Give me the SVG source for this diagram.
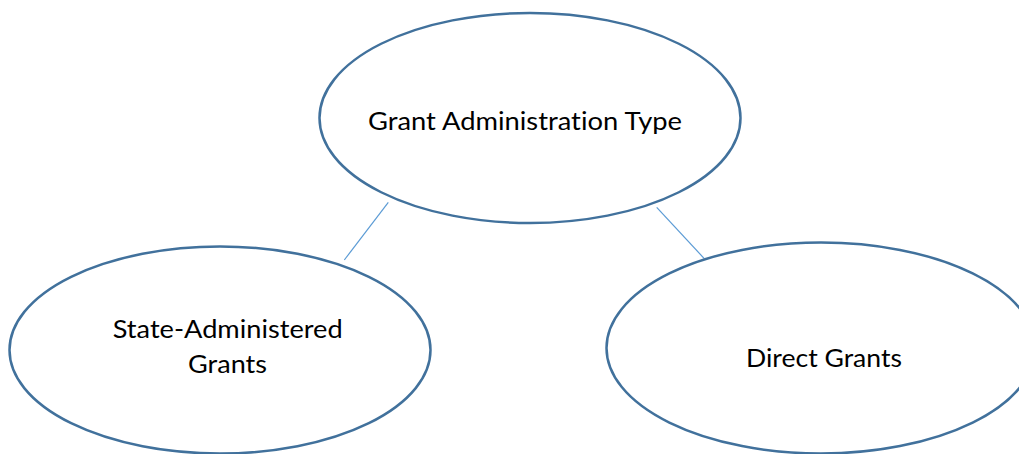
<svg xmlns="http://www.w3.org/2000/svg" width="1019" height="454" viewBox="0 0 1019 454">
  <style>
    .node { fill: #ffffff; stroke: #41719c; stroke-width: 2.5; }
    .label { font-family: Lato, "Open Sans", "Liberation Sans", sans-serif; font-size: 24.5px; fill: #000000; text-anchor: middle; font-variant-ligatures: none; }
    .link { stroke: #5b9bd5; stroke-width: 1.2; fill: none; }
  </style>
  <rect width="1019" height="454" fill="#ffffff"/>

  <!-- connectors -->
  <g id="connectors">
    <line class="link" x1="388.3" y1="202.3" x2="344.3" y2="260"/>
    <line class="link" x1="656.7" y1="207.3" x2="704" y2="258.3"/>
  </g>

  <!-- root -->
  <g id="node-root">
    <ellipse class="node" cx="530" cy="118" rx="210.5" ry="105"/>
    <text class="label" x="525" y="130" textLength="314" lengthAdjust="spacingAndGlyphs">Grant Administration Type</text>
  </g>

  <!-- state administered -->
  <g id="node-state">
    <ellipse class="node" cx="220" cy="350" rx="210.5" ry="103.5"/>
    <text class="label" x="227.7" y="337.5" textLength="230" lengthAdjust="spacingAndGlyphs">State-Administered</text>
    <text class="label" x="227.5" y="373" textLength="79" lengthAdjust="spacingAndGlyphs">Grants</text>
  </g>

  <!-- direct -->
  <g id="node-direct">
    <ellipse class="node" cx="821" cy="348" rx="214.5" ry="105.5"/>
    <text class="label" x="824" y="366.5" textLength="156" lengthAdjust="spacingAndGlyphs">Direct Grants</text>
  </g>
</svg>
